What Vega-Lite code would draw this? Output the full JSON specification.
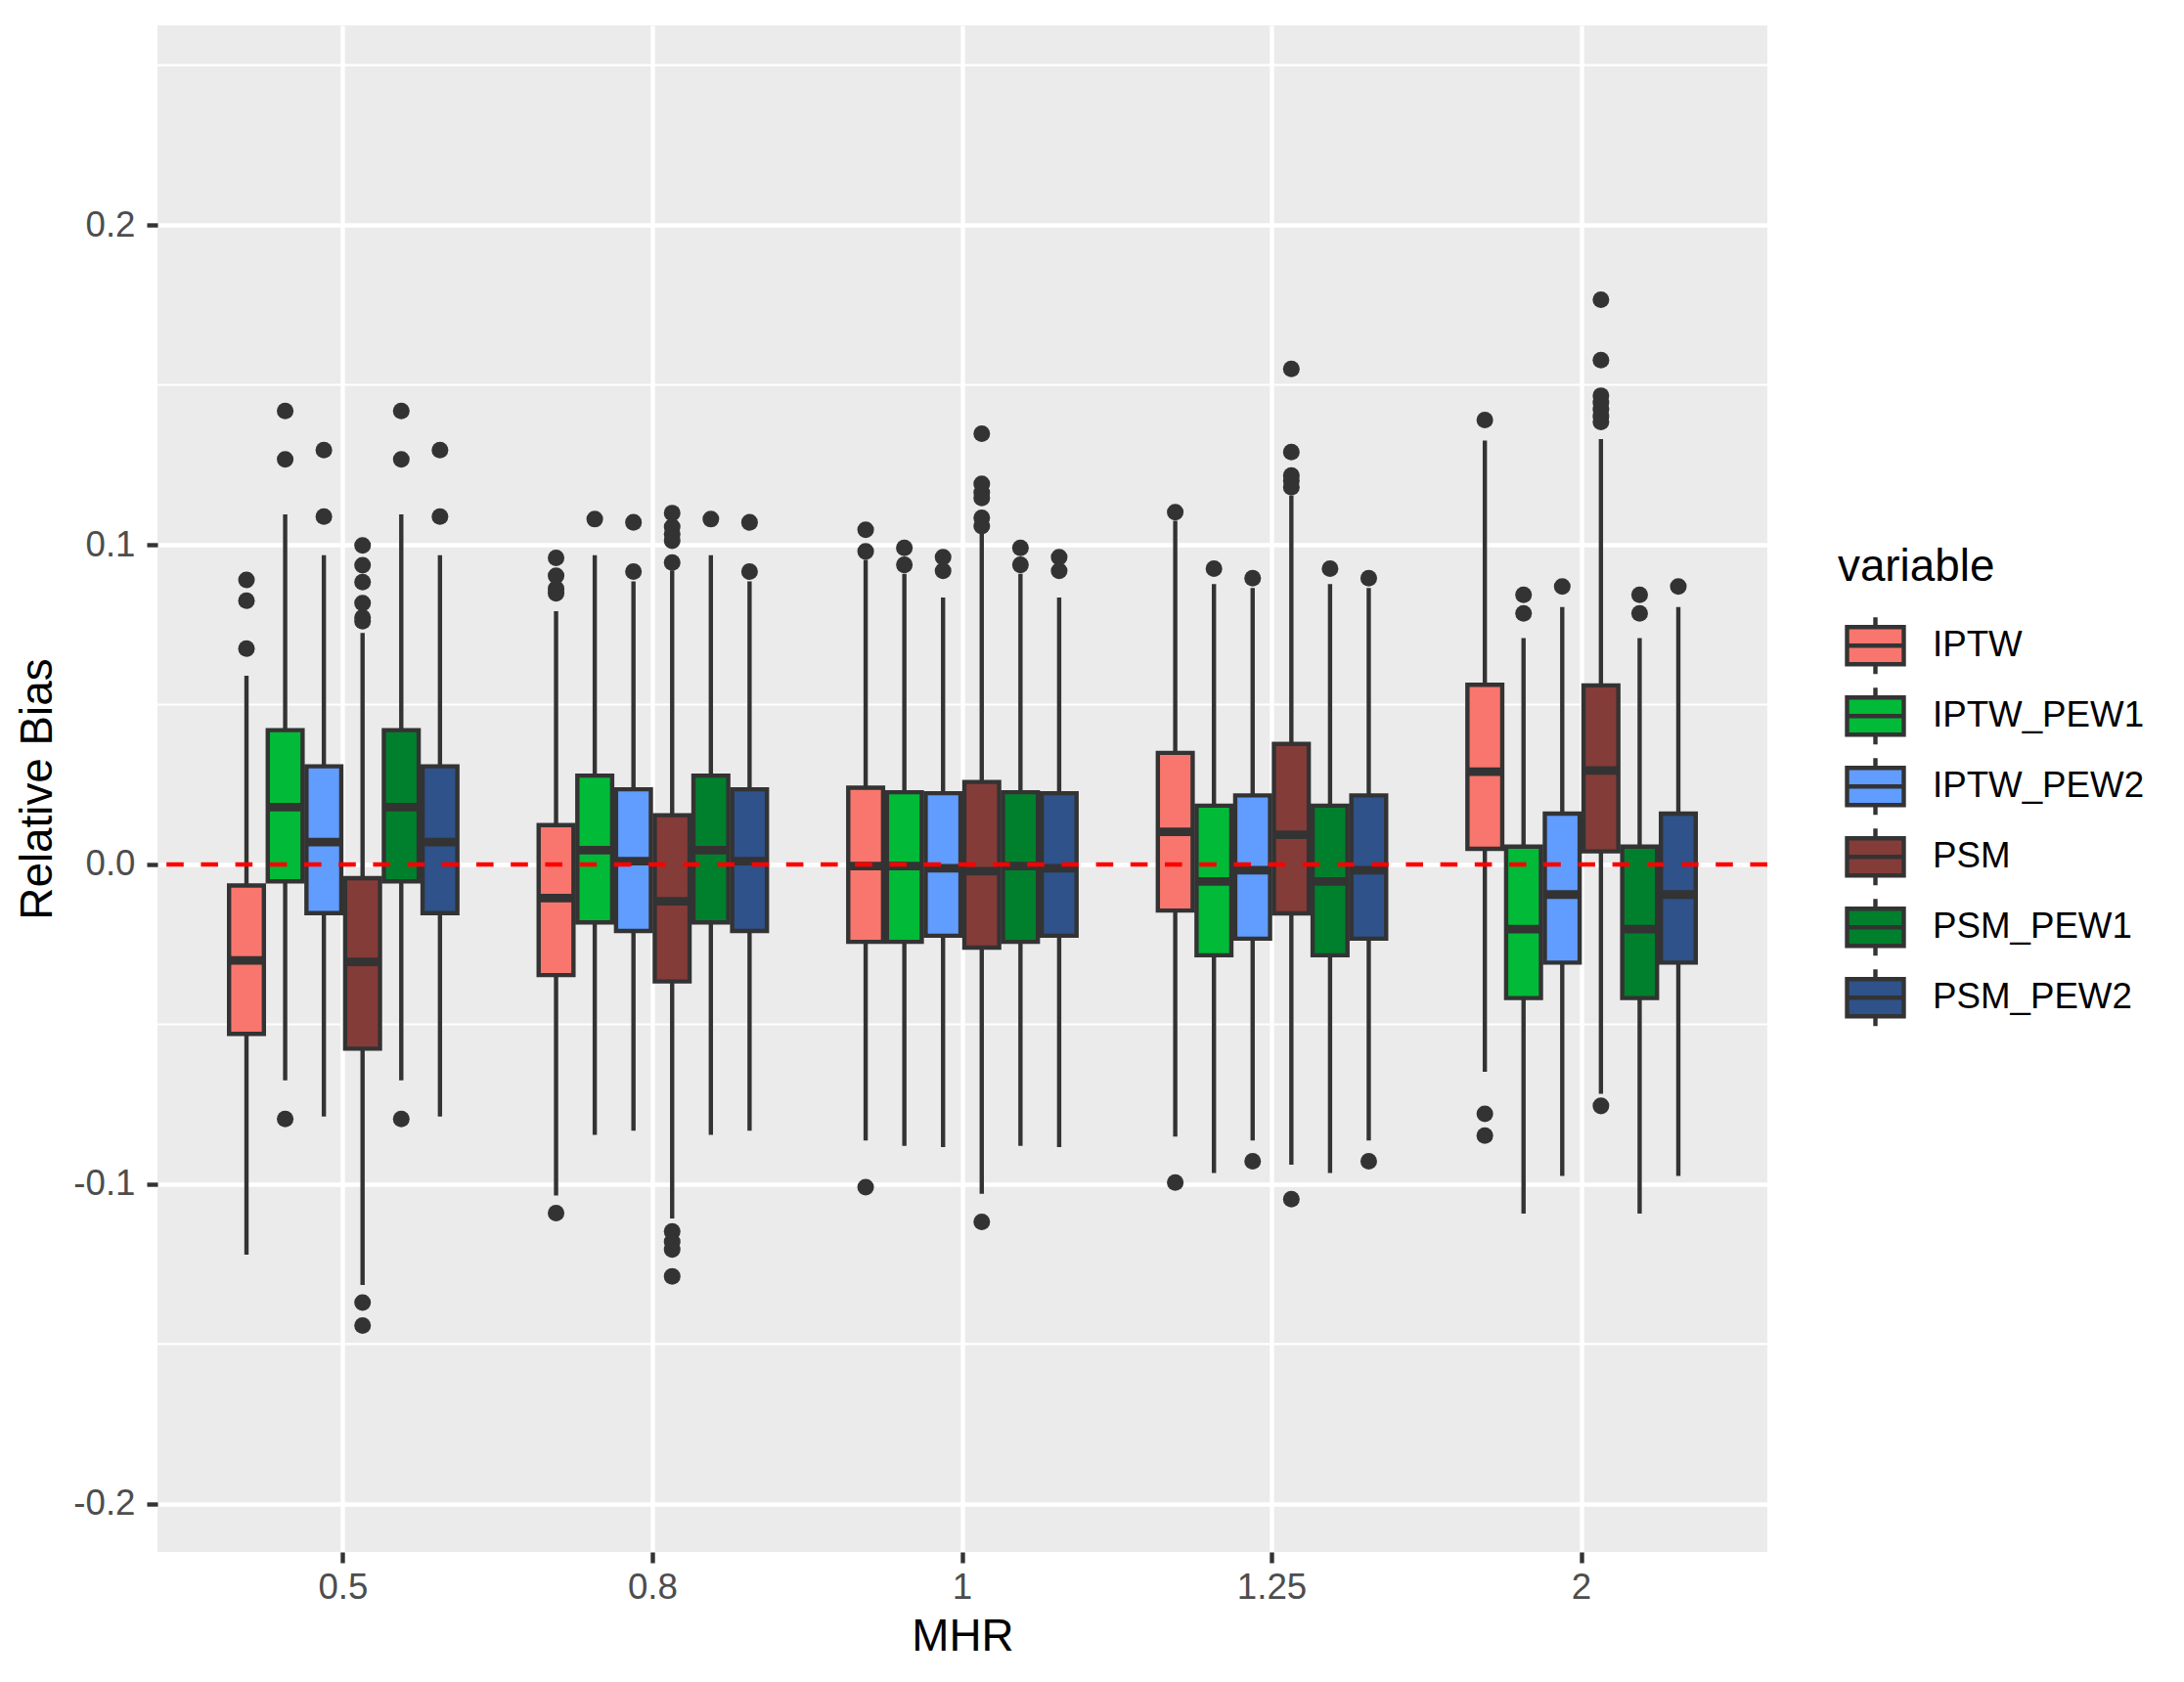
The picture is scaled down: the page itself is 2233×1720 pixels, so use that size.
{
  "$schema": "https://vega.github.io/schema/vega-lite/v6.json",
  "width": 1646,
  "height": 1561,
  "autosize": {"type": "none"},
  "padding": {"left": 161, "top": 26, "right": 426, "bottom": 133},
  "background": "white",
  "datasets": {
    "boxes": [
      {"MHR": "0.5", "variable": "IPTW", "lo": -0.122, "q1": -0.053, "med": -0.030, "q3": -0.0066, "hi": 0.059},
      {"MHR": "0.5", "variable": "IPTW_PEW1", "lo": -0.0675, "q1": -0.0053, "med": 0.0179, "q3": 0.042, "hi": 0.1095},
      {"MHR": "0.5", "variable": "IPTW_PEW2", "lo": -0.0788, "q1": -0.0152, "med": 0.007, "q3": 0.0307, "hi": 0.0967},
      {"MHR": "0.5", "variable": "PSM", "lo": -0.1315, "q1": -0.0576, "med": -0.0305, "q3": -0.0043, "hi": 0.0724},
      {"MHR": "0.5", "variable": "PSM_PEW1", "lo": -0.0675, "q1": -0.0053, "med": 0.0179, "q3": 0.042, "hi": 0.1095},
      {"MHR": "0.5", "variable": "PSM_PEW2", "lo": -0.0788, "q1": -0.0152, "med": 0.007, "q3": 0.0307, "hi": 0.0967},
      {"MHR": "0.8", "variable": "IPTW", "lo": -0.1035, "q1": -0.0346, "med": -0.0105, "q3": 0.0123, "hi": 0.0792},
      {"MHR": "0.8", "variable": "IPTW_PEW1", "lo": -0.0846, "q1": -0.0181, "med": 0.0045, "q3": 0.0278, "hi": 0.0967},
      {"MHR": "0.8", "variable": "IPTW_PEW2", "lo": -0.0833, "q1": -0.0208, "med": 0.001, "q3": 0.0235, "hi": 0.0885},
      {"MHR": "0.8", "variable": "PSM", "lo": -0.1107, "q1": -0.0366, "med": -0.0115, "q3": 0.0154, "hi": 0.092},
      {"MHR": "0.8", "variable": "PSM_PEW1", "lo": -0.0846, "q1": -0.0181, "med": 0.0045, "q3": 0.0278, "hi": 0.0967},
      {"MHR": "0.8", "variable": "PSM_PEW2", "lo": -0.0833, "q1": -0.0208, "med": 0.001, "q3": 0.0235, "hi": 0.0885},
      {"MHR": "1", "variable": "IPTW", "lo": -0.0863, "q1": -0.0242, "med": -0.0005, "q3": 0.024, "hi": 0.0953},
      {"MHR": "1", "variable": "IPTW_PEW1", "lo": -0.088, "q1": -0.0242, "med": -0.0005, "q3": 0.0226, "hi": 0.0909},
      {"MHR": "1", "variable": "IPTW_PEW2", "lo": -0.0884, "q1": -0.0223, "med": -0.0012, "q3": 0.0223, "hi": 0.0835},
      {"MHR": "1", "variable": "PSM", "lo": -0.103, "q1": -0.026, "med": -0.0021, "q3": 0.0258, "hi": 0.104},
      {"MHR": "1", "variable": "PSM_PEW1", "lo": -0.088, "q1": -0.0242, "med": -0.0005, "q3": 0.0226, "hi": 0.0909},
      {"MHR": "1", "variable": "PSM_PEW2", "lo": -0.0884, "q1": -0.0223, "med": -0.0012, "q3": 0.0223, "hi": 0.0835},
      {"MHR": "1.25", "variable": "IPTW", "lo": -0.0851, "q1": -0.0144, "med": 0.0102, "q3": 0.0349, "hi": 0.1075},
      {"MHR": "1.25", "variable": "IPTW_PEW1", "lo": -0.0965, "q1": -0.0284, "med": -0.0053, "q3": 0.0184, "hi": 0.0877},
      {"MHR": "1.25", "variable": "IPTW_PEW2", "lo": -0.0863, "q1": -0.0232, "med": -0.0018, "q3": 0.0216, "hi": 0.0865},
      {"MHR": "1.25", "variable": "PSM", "lo": -0.0939, "q1": -0.0153, "med": 0.0093, "q3": 0.0377, "hi": 0.1154},
      {"MHR": "1.25", "variable": "PSM_PEW1", "lo": -0.0965, "q1": -0.0284, "med": -0.0053, "q3": 0.0184, "hi": 0.0877},
      {"MHR": "1.25", "variable": "PSM_PEW2", "lo": -0.0863, "q1": -0.0232, "med": -0.0018, "q3": 0.0216, "hi": 0.0865},
      {"MHR": "2", "variable": "IPTW", "lo": -0.0648, "q1": 0.0049, "med": 0.029, "q3": 0.0562, "hi": 0.1326},
      {"MHR": "2", "variable": "IPTW_PEW1", "lo": -0.1092, "q1": -0.0418, "med": -0.0202, "q3": 0.0056, "hi": 0.0708},
      {"MHR": "2", "variable": "IPTW_PEW2", "lo": -0.0974, "q1": -0.0307, "med": -0.0094, "q3": 0.0159, "hi": 0.0805},
      {"MHR": "2", "variable": "PSM", "lo": -0.0717, "q1": 0.0041, "med": 0.0294, "q3": 0.056, "hi": 0.133},
      {"MHR": "2", "variable": "PSM_PEW1", "lo": -0.1092, "q1": -0.0418, "med": -0.0202, "q3": 0.0056, "hi": 0.0708},
      {"MHR": "2", "variable": "PSM_PEW2", "lo": -0.0974, "q1": -0.0307, "med": -0.0094, "q3": 0.0159, "hi": 0.0805}
    ],
    "outliers": [
      {"MHR": "0.5", "variable": "IPTW", "value": 0.089},
      {"MHR": "0.5", "variable": "IPTW", "value": 0.0825},
      {"MHR": "0.5", "variable": "IPTW", "value": 0.0675},
      {"MHR": "0.5", "variable": "IPTW_PEW1", "value": 0.1418},
      {"MHR": "0.5", "variable": "IPTW_PEW1", "value": 0.1267},
      {"MHR": "0.5", "variable": "IPTW_PEW1", "value": -0.0796},
      {"MHR": "0.5", "variable": "IPTW_PEW2", "value": 0.1296},
      {"MHR": "0.5", "variable": "IPTW_PEW2", "value": 0.1088},
      {"MHR": "0.5", "variable": "PSM", "value": 0.0998},
      {"MHR": "0.5", "variable": "PSM", "value": 0.0936},
      {"MHR": "0.5", "variable": "PSM", "value": 0.0883},
      {"MHR": "0.5", "variable": "PSM", "value": 0.0817},
      {"MHR": "0.5", "variable": "PSM", "value": 0.0772},
      {"MHR": "0.5", "variable": "PSM", "value": 0.0761},
      {"MHR": "0.5", "variable": "PSM", "value": -0.137},
      {"MHR": "0.5", "variable": "PSM", "value": -0.1442},
      {"MHR": "0.5", "variable": "PSM_PEW1", "value": 0.1418},
      {"MHR": "0.5", "variable": "PSM_PEW1", "value": 0.1267},
      {"MHR": "0.5", "variable": "PSM_PEW1", "value": -0.0796},
      {"MHR": "0.5", "variable": "PSM_PEW2", "value": 0.1296},
      {"MHR": "0.5", "variable": "PSM_PEW2", "value": 0.1088},
      {"MHR": "0.8", "variable": "IPTW", "value": 0.0959},
      {"MHR": "0.8", "variable": "IPTW", "value": 0.0903},
      {"MHR": "0.8", "variable": "IPTW", "value": 0.0862},
      {"MHR": "0.8", "variable": "IPTW", "value": 0.0848},
      {"MHR": "0.8", "variable": "IPTW", "value": -0.109},
      {"MHR": "0.8", "variable": "IPTW_PEW1", "value": 0.108},
      {"MHR": "0.8", "variable": "IPTW_PEW2", "value": 0.107},
      {"MHR": "0.8", "variable": "IPTW_PEW2", "value": 0.0916},
      {"MHR": "0.8", "variable": "PSM", "value": 0.1099},
      {"MHR": "0.8", "variable": "PSM", "value": 0.1056},
      {"MHR": "0.8", "variable": "PSM", "value": 0.1033},
      {"MHR": "0.8", "variable": "PSM", "value": 0.1012},
      {"MHR": "0.8", "variable": "PSM", "value": 0.0944},
      {"MHR": "0.8", "variable": "PSM", "value": -0.1148},
      {"MHR": "0.8", "variable": "PSM", "value": -0.118},
      {"MHR": "0.8", "variable": "PSM", "value": -0.1204},
      {"MHR": "0.8", "variable": "PSM", "value": -0.1288},
      {"MHR": "0.8", "variable": "PSM_PEW1", "value": 0.108},
      {"MHR": "0.8", "variable": "PSM_PEW2", "value": 0.107},
      {"MHR": "0.8", "variable": "PSM_PEW2", "value": 0.0916},
      {"MHR": "1", "variable": "IPTW", "value": 0.1047},
      {"MHR": "1", "variable": "IPTW", "value": 0.0979},
      {"MHR": "1", "variable": "IPTW", "value": -0.1009},
      {"MHR": "1", "variable": "IPTW_PEW1", "value": 0.099},
      {"MHR": "1", "variable": "IPTW_PEW1", "value": 0.0937},
      {"MHR": "1", "variable": "IPTW_PEW2", "value": 0.0961},
      {"MHR": "1", "variable": "IPTW_PEW2", "value": 0.0918},
      {"MHR": "1", "variable": "PSM", "value": 0.1347},
      {"MHR": "1", "variable": "PSM", "value": 0.119},
      {"MHR": "1", "variable": "PSM", "value": 0.1163},
      {"MHR": "1", "variable": "PSM", "value": 0.1146},
      {"MHR": "1", "variable": "PSM", "value": 0.1084},
      {"MHR": "1", "variable": "PSM", "value": 0.1058},
      {"MHR": "1", "variable": "PSM", "value": -0.1118},
      {"MHR": "1", "variable": "PSM_PEW1", "value": 0.099},
      {"MHR": "1", "variable": "PSM_PEW1", "value": 0.0937},
      {"MHR": "1", "variable": "PSM_PEW2", "value": 0.0961},
      {"MHR": "1", "variable": "PSM_PEW2", "value": 0.0918},
      {"MHR": "1.25", "variable": "IPTW", "value": 0.1102},
      {"MHR": "1.25", "variable": "IPTW", "value": -0.0995},
      {"MHR": "1.25", "variable": "IPTW_PEW1", "value": 0.0925},
      {"MHR": "1.25", "variable": "IPTW_PEW2", "value": 0.0895},
      {"MHR": "1.25", "variable": "IPTW_PEW2", "value": -0.0928},
      {"MHR": "1.25", "variable": "PSM", "value": 0.155},
      {"MHR": "1.25", "variable": "PSM", "value": 0.129},
      {"MHR": "1.25", "variable": "PSM", "value": 0.1216},
      {"MHR": "1.25", "variable": "PSM", "value": 0.12},
      {"MHR": "1.25", "variable": "PSM", "value": 0.118},
      {"MHR": "1.25", "variable": "PSM", "value": -0.1047},
      {"MHR": "1.25", "variable": "PSM_PEW1", "value": 0.0925},
      {"MHR": "1.25", "variable": "PSM_PEW2", "value": 0.0895},
      {"MHR": "1.25", "variable": "PSM_PEW2", "value": -0.0928},
      {"MHR": "2", "variable": "IPTW", "value": 0.139},
      {"MHR": "2", "variable": "IPTW", "value": -0.078},
      {"MHR": "2", "variable": "IPTW", "value": -0.0848},
      {"MHR": "2", "variable": "IPTW_PEW1", "value": 0.0843},
      {"MHR": "2", "variable": "IPTW_PEW1", "value": 0.0785},
      {"MHR": "2", "variable": "IPTW_PEW2", "value": 0.0869},
      {"MHR": "2", "variable": "PSM", "value": 0.1766},
      {"MHR": "2", "variable": "PSM", "value": 0.1577},
      {"MHR": "2", "variable": "PSM", "value": 0.1466},
      {"MHR": "2", "variable": "PSM", "value": 0.1444},
      {"MHR": "2", "variable": "PSM", "value": 0.1423},
      {"MHR": "2", "variable": "PSM", "value": 0.1401},
      {"MHR": "2", "variable": "PSM", "value": 0.1384},
      {"MHR": "2", "variable": "PSM", "value": -0.0755},
      {"MHR": "2", "variable": "PSM_PEW1", "value": 0.0843},
      {"MHR": "2", "variable": "PSM_PEW1", "value": 0.0785},
      {"MHR": "2", "variable": "PSM_PEW2", "value": 0.0869}
    ],
    "minor": [
      {"g": -0.15}, {"g": -0.05}, {"g": 0.05}, {"g": 0.15}, {"g": 0.25}
    ],
    "ref": [
      {"y": 0}
    ]
  },
  "layer": [
    {
      "data": {"name": "minor"},
      "mark": {"type": "rule", "color": "white", "strokeWidth": 2.2},
      "encoding": {
        "y": {"field": "g", "type": "quantitative", "title": "Relative Bias",
              "scale": {"domain": [-0.215, 0.2624], "nice": false, "zero": false},
              "axis": {"values": [-0.2, -0.1, 0, 0.1, 0.2], "labelExpr": "replace(format(datum.value, '.1f'), '\u2212', '-')"}}
      }
    },
    {
      "encoding": {
        "x": {"field": "MHR", "type": "nominal", "title": "MHR",
              "scale": {"domain": ["0.5", "0.8", "1", "1.25", "2"], "paddingInner": 0.25, "paddingOuter": 0.225}},
        "xOffset": {"field": "variable", "type": "nominal",
                    "scale": {"domain": ["IPTW", "IPTW_PEW1", "IPTW_PEW2", "PSM", "PSM_PEW1", "PSM_PEW2"], "paddingInner": 0.1, "paddingOuter": 0.05}}
      },
      "layer": [
        {
          "data": {"name": "boxes"},
          "mark": {"type": "rule", "color": "#333333", "strokeWidth": 4.4},
          "encoding": {
            "y": {"field": "lo", "type": "quantitative", "title": "Relative Bias",
                  "scale": {"domain": [-0.215, 0.2624], "nice": false, "zero": false},
                  "axis": {"values": [-0.2, -0.1, 0, 0.1, 0.2], "labelExpr": "replace(format(datum.value, '.1f'), '\u2212', '-')"}},
            "y2": {"field": "hi"}
          }
        },
        {
          "data": {"name": "boxes"},
          "mark": {"type": "bar", "stroke": "#333333", "strokeWidth": 4.4, "opacity": 1},
          "encoding": {
            "y": {"field": "q1", "type": "quantitative", "title": "Relative Bias",
                  "scale": {"domain": [-0.215, 0.2624], "nice": false, "zero": false},
                  "axis": {"values": [-0.2, -0.1, 0, 0.1, 0.2], "labelExpr": "replace(format(datum.value, '.1f'), '\u2212', '-')"}},
            "y2": {"field": "q3"},
            "fill": {
              "field": "variable", "type": "nominal", "title": "variable",
              "scale": {
                "domain": ["IPTW", "IPTW_PEW1", "IPTW_PEW2", "PSM", "PSM_PEW1", "PSM_PEW2"],
                "range": ["#F8766D", "#00BA38", "#619CFF", "#843C39", "#00802C", "#2E5289"]
              },
              "legend": {"orient": "none", "legendX": 1718, "legendY": 532}
            }
          }
        },
        {
          "data": {"name": "boxes"},
          "mark": {"type": "tick", "color": "#333333", "size": 36, "thickness": 8.8, "opacity": 1, "orient": "horizontal"},
          "encoding": {
            "y": {"field": "med", "type": "quantitative", "title": "Relative Bias",
                  "scale": {"domain": [-0.215, 0.2624], "nice": false, "zero": false},
                  "axis": {"values": [-0.2, -0.1, 0, 0.1, 0.2], "labelExpr": "replace(format(datum.value, '.1f'), '\u2212', '-')"}}
          }
        },
        {
          "data": {"name": "outliers"},
          "mark": {"type": "circle", "color": "#333333", "size": 290, "opacity": 1},
          "encoding": {
            "y": {"field": "value", "type": "quantitative", "title": "Relative Bias",
                  "scale": {"domain": [-0.215, 0.2624], "nice": false, "zero": false},
                  "axis": {"values": [-0.2, -0.1, 0, 0.1, 0.2], "labelExpr": "replace(format(datum.value, '.1f'), '\u2212', '-')"}}
          }
        }
      ]
    },
    {
      "data": {"name": "ref"},
      "mark": {"type": "rule", "color": "#FF0000", "strokeWidth": 4.4, "strokeDash": [17.6, 17.6]},
      "encoding": {
        "y": {"field": "y", "type": "quantitative", "title": "Relative Bias",
              "scale": {"domain": [-0.215, 0.2624], "nice": false, "zero": false},
              "axis": {"values": [-0.2, -0.1, 0, 0.1, 0.2], "labelExpr": "replace(format(datum.value, '.1f'), '\u2212', '-')"}}
      }
    }
  ],
  "config": {
    "view": {"fill": "#EBEBEB", "stroke": null},
    "font": "Liberation Sans",
    "axis": {
      "domain": false,
      "grid": true,
      "gridColor": "white",
      "gridWidth": 4.4,
      "tickColor": "#333333",
      "tickWidth": 4.4,
      "tickSize": 11,
      "labelFont": "Liberation Sans",
      "labelFontSize": 36.7,
      "labelColor": "#4D4D4D",
      "titleFont": "Liberation Sans",
      "titleFontSize": 45.8,
      "titleFontWeight": "normal",
      "titleColor": "black"
    },
    "axisX": {"labelPadding": 7, "titlePadding": 10, "labelAngle": 0},
    "axisY": {"labelPadding": 12, "titlePadding": 12},
    "legend": {
      "padding": 0,
      "titleFont": "Liberation Sans",
      "titleFontSize": 45.8,
      "titleFontWeight": "normal",
      "titleColor": "black",
      "titlePadding": 25,
      "labelFont": "Liberation Sans",
      "labelFontSize": 36.7,
      "labelColor": "black",
      "labelLimit": 600,
      "labelOffset": 27,
      "symbolOffset": 7,
      "symbolType": "M-1,-0.655H1V0.655H-1Z M-1,0H1 M0,-0.655V-1 M0,0.655V1",
      "symbolSize": 3364,
      "symbolStrokeColor": "#333333",
      "symbolStrokeWidth": 4.4,
      "symbolOpacity": 1,
      "rowPadding": -5
    }
  }
}
